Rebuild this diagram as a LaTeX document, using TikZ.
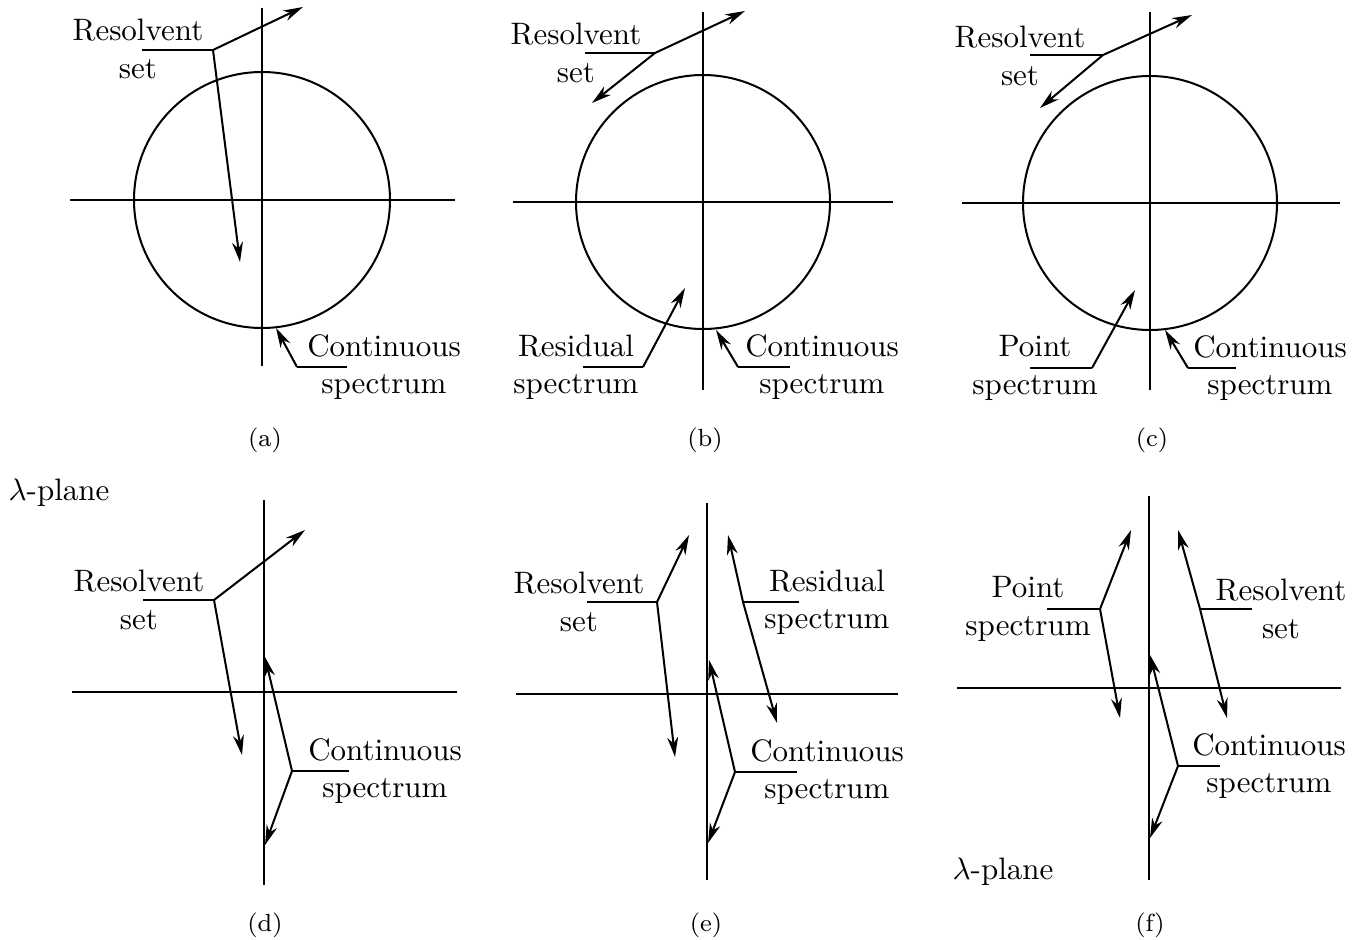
\documentclass[tikz,border=0pt]{standalone}
\usetikzlibrary{arrows.meta}
\begin{document}
\begin{tikzpicture}[x=0.3226pt,y=-0.3226pt,
  axis/.style={line width=0.65pt},
  curve/.style={line width=0.65pt},
  leader/.style={line width=0.65pt},
  pointer/.style={line width=0.65pt,-{Stealth[length=6.4pt,width=3.5pt,inset=2pt]}},
  lbl/.style={align=center,inner sep=0pt},
  captxt/.style={font=\footnotesize,inner sep=0pt}]
\useasboundingbox (0,0) rectangle (1363,940);

% ===== (a) =====
\coordinate (aO) at (262,200);
\draw[axis] (262,8) -- (262,366);
\draw[axis] (70,200) -- (455,200);
\draw[curve] (aO) circle[radius=128];
\node[lbl] (aR) at (138,49) {Resolvent\\set};
\coordinate (aRj) at (213,50);
\coordinate (aRt1) at (303,7);
\coordinate (aRt2) at (240,262);
\draw[leader] (142,50) -- (aRj);
\draw[pointer] (aRj) -- (aRt1);
\draw[pointer] (aRj) -- (aRt2);
\node[lbl] (aC) at (384,367) {Continuous\\spectrum};
\coordinate (aCj) at (297,367);
\coordinate (aCt) at (276,328);
\draw[leader] (347,367) -- (aCj);
\draw[pointer] (aCj) -- (aCt);
\node[captxt] (capa) at (265,440) {(a)};

% ===== (b) =====
\coordinate (bO) at (703,202);
\draw[axis] (703,12) -- (703,390);
\draw[axis] (513,202) -- (893,202);
\draw[curve] (bO) circle[radius=127];
\node[lbl] (bR) at (576,53) {Resolvent\\set};
\coordinate (bRj) at (655,53);
\coordinate (bRt1) at (745,11);
\coordinate (bRt2) at (592,103);
\draw[leader] (585,53) -- (bRj);
\draw[pointer] (bRj) -- (bRt1);
\draw[pointer] (bRj) -- (bRt2);
\node[lbl] (bS) at (576,367) {Residual\\spectrum};
\coordinate (bSj) at (643,367);
\coordinate (bSt) at (685,288);
\draw[leader] (583,367) -- (bSj);
\draw[pointer] (bSj) -- (bSt);
\node[lbl] (bC) at (822,367) {Continuous\\spectrum};
\coordinate (bCj) at (738,367);
\coordinate (bCt) at (716,330);
\draw[leader] (790,367) -- (bCj);
\draw[pointer] (bCj) -- (bCt);
\node[captxt] (capb) at (705,440) {(b)};

% ===== (c) =====
\coordinate (cO) at (1150,203);
\draw[axis] (1150,12) -- (1150,390);
\draw[axis] (962,203) -- (1340,203);
\draw[curve] (cO) circle[radius=127];
\node[lbl] (cR) at (1020,56) {Resolvent\\set};
\coordinate (cRj) at (1103,55);
\coordinate (cRt1) at (1192,15);
\coordinate (cRt2) at (1040,108);
\draw[leader] (1030,55) -- (cRj);
\draw[pointer] (cRj) -- (cRt1);
\draw[pointer] (cRj) -- (cRt2);
\node[lbl] (cP) at (1035,368) {Point\\spectrum};
\coordinate (cPj) at (1092,368);
\coordinate (cPt) at (1135,290);
\draw[leader] (1030,368) -- (cPj);
\draw[pointer] (cPj) -- (cPt);
\node[lbl] (cC) at (1270,368) {Continuous\\spectrum};
\coordinate (cCj) at (1188,368);
\coordinate (cCt) at (1165,330);
\draw[leader] (1236,368) -- (cCj);
\draw[pointer] (cCj) -- (cCt);
\node[captxt] (capc) at (1152,440) {(c)};

% lambda-plane labels
\node[inner sep=0pt] (lp1) at (59,493) {$\lambda$-plane};
\node[inner sep=0pt] (lp2) at (1003,872) {$\lambda$-plane};

% ===== (d) =====
\draw[axis] (264,500) -- (264,885);
\draw[axis] (72,692) -- (457,692);
\node[lbl] (dR) at (139,600) {Resolvent\\set};
\coordinate (dRj) at (214,600);
\coordinate (dRt1) at (305,530);
\coordinate (dRt2) at (242,755);
\draw[leader] (143,600) -- (dRj);
\draw[pointer] (dRj) -- (dRt1);
\draw[pointer] (dRj) -- (dRt2);
\node[lbl] (dC) at (385,771) {Continuous\\spectrum};
\coordinate (dCj) at (292,771);
\coordinate (dCt1) at (265,657);
\coordinate (dCt2) at (265,845);
\draw[leader] (349,771) -- (dCj);
\draw[pointer] (dCj) -- (dCt1);
\draw[pointer] (dCj) -- (dCt2);
\node[captxt] (capd) at (265,925) {(d)};

% ===== (e) =====
\draw[axis] (707,503) -- (707,880);
\draw[axis] (516,694) -- (898,694);
\node[lbl] (eR) at (579,602) {Resolvent\\set};
\coordinate (eRj) at (657,602);
\coordinate (eRt1) at (689,535);
\coordinate (eRt2) at (675,757);
\draw[leader] (587,602) -- (eRj);
\draw[pointer] (eRj) -- (eRt1);
\draw[pointer] (eRj) -- (eRt2);
\node[lbl] (eS) at (827,602) {Residual\\spectrum};
\coordinate (eSj) at (743,602);
\coordinate (eSt1) at (728,535);
\coordinate (eSt2) at (777,723);
\draw[leader] (799,602) -- (eSj);
\draw[pointer] (eSj) -- (eSt1);
\draw[pointer] (eSj) -- (eSt2);
\node[lbl] (eC) at (827,772) {Continuous\\spectrum};
\coordinate (eCj) at (735,772);
\coordinate (eCt1) at (709,660);
\coordinate (eCt2) at (708,843);
\draw[leader] (797,772) -- (eCj);
\draw[pointer] (eCj) -- (eCt1);
\draw[pointer] (eCj) -- (eCt2);
\node[captxt] (cape) at (706,925) {(e)};

% ===== (f) =====
\draw[axis] (1149,496) -- (1149,880);
\draw[axis] (957,688) -- (1341,688);
\node[lbl] (fP) at (1028,609) {Point\\spectrum};
\coordinate (fPj) at (1100,609);
\coordinate (fPt1) at (1131,530);
\coordinate (fPt2) at (1120,718);
\draw[leader] (1047,609) -- (fPj);
\draw[pointer] (fPj) -- (fPt1);
\draw[pointer] (fPj) -- (fPt2);
\node[lbl] (fR) at (1281,609) {Resolvent\\set};
\coordinate (fRj) at (1200,609);
\coordinate (fRt1) at (1178,530);
\coordinate (fRt2) at (1227,718);
\draw[leader] (1252,609) -- (fRj);
\draw[pointer] (fRj) -- (fRt1);
\draw[pointer] (fRj) -- (fRt2);
\node[lbl] (fC) at (1269,766) {Continuous\\spectrum};
\coordinate (fCj) at (1178,766);
\coordinate (fCt1) at (1150,655);
\coordinate (fCt2) at (1150,838);
\draw[leader] (1220,766) -- (fCj);
\draw[pointer] (fCj) -- (fCt1);
\draw[pointer] (fCj) -- (fCt2);
\node[captxt] (capf) at (1150,925) {(f)};
\end{tikzpicture}
\end{document}
